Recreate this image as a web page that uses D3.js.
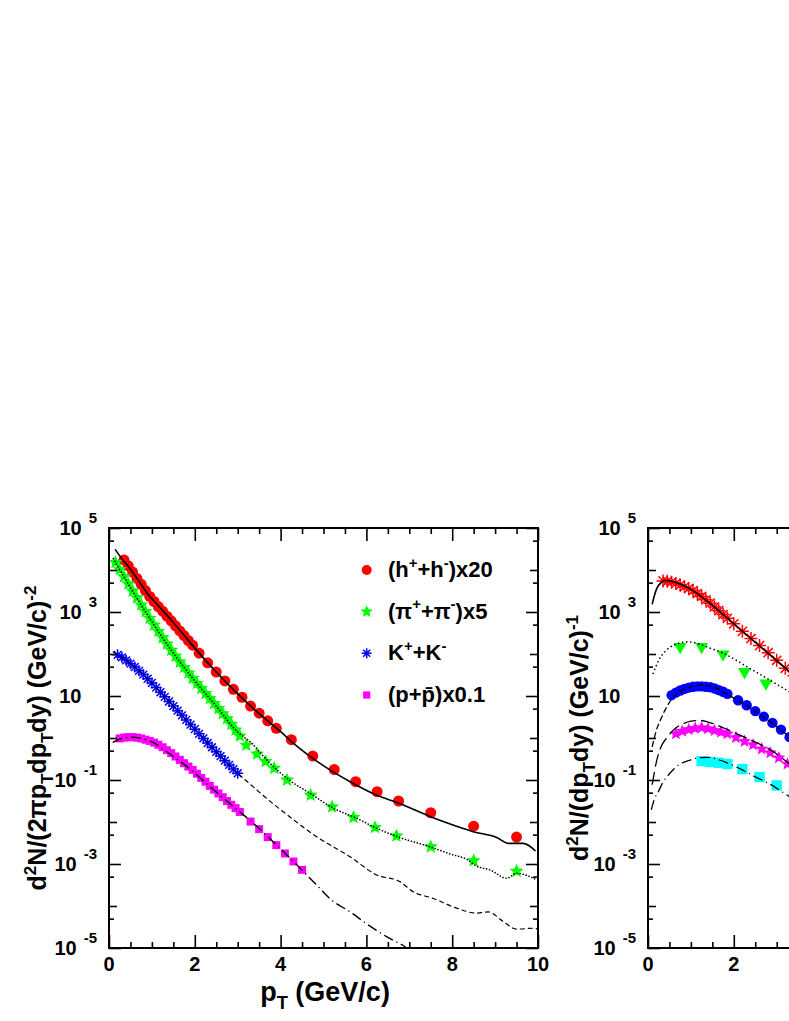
<!DOCTYPE html>
<html><head><meta charset="utf-8">
<script src="https://d3js.org/d3.v7.min.js"></script>
<style>body{margin:0;background:#fff}</style>
</head><body>
<script>
// ---------------- DATA (log10 of yields) ----------------
const xTickLabels = ["0","2","4","6","8","10"];
const xTickValues = [0,2,4,6,8,10];
const yLabelExps = [-5,-3,-1,1,3,5];

// Left panel
const hadronPt  = [0.35,0.45,0.55,0.65,0.75,0.85,0.95,1.05,1.15,1.25,1.35,1.45,1.55,1.65,1.75,1.85,1.95,2.1,2.3,2.5,2.7,2.9,3.1,3.3,3.5,3.7,3.9,4.25,4.75,5.25,5.75,6.25,6.75,7.5,8.5,9.5];
const hadronLog = [4.24,4.10,3.95,3.80,3.66,3.51,3.37,3.25,3.13,3.02,2.90,2.79,2.67,2.55,2.44,2.32,2.21,2.02,1.79,1.57,1.36,1.16,0.97,0.76,0.59,0.41,0.23,-0.04,-0.43,-0.75,-1.04,-1.28,-1.50,-1.78,-2.10,-2.36];
const pionPt  = [0.15,0.25,0.35,0.45,0.55,0.65,0.75,0.85,0.95,1.05,1.15,1.25,1.35,1.45,1.55,1.65,1.75,1.85,1.95,2.05,2.15,2.25,2.35,2.45,2.55,2.65,2.75,2.85,2.95,3.05,3.2,3.45,3.65,3.85,4.15,4.7,5.2,5.7,6.2,6.7,7.5,8.5,9.5];
const pionLog = [4.18,4.01,3.84,3.67,3.50,3.34,3.17,3.01,2.85,2.69,2.54,2.39,2.24,2.09,1.95,1.81,1.68,1.55,1.42,1.30,1.18,1.06,0.94,0.82,0.70,0.58,0.46,0.33,0.19,0.05,-0.17,-0.38,-0.56,-0.72,-1.0,-1.36,-1.64,-1.89,-2.13,-2.33,-2.59,-2.92,-3.17];
const kaonPt  = [0.2,0.3,0.4,0.5,0.6,0.7,0.8,0.9,1.0,1.1,1.2,1.3,1.4,1.5,1.6,1.7,1.8,1.9,2.0,2.1,2.2,2.3,2.4,2.5,2.6,2.7,2.8,2.9,3.0];
const kaonLog = [1.98,1.92,1.85,1.77,1.69,1.60,1.51,1.41,1.31,1.20,1.09,0.98,0.87,0.76,0.65,0.54,0.43,0.32,0.21,0.10,-0.01,-0.12,-0.22,-0.33,-0.43,-0.54,-0.64,-0.74,-0.84];
const protonPt  = [0.25,0.35,0.45,0.55,0.65,0.75,0.85,0.95,1.05,1.15,1.25,1.35,1.45,1.55,1.65,1.75,1.85,1.95,2.05,2.15,2.25,2.35,2.45,2.55,2.65,2.75,2.85,2.95,3.05,3.3,3.5,3.7,3.9,4.1,4.3,4.5];
const protonLog = [-0.01,0.01,0.02,0.02,0.01,-0.01,-0.04,-0.07,-0.11,-0.16,-0.22,-0.29,-0.36,-0.44,-0.52,-0.60,-0.68,-0.76,-0.85,-0.95,-1.04,-1.14,-1.23,-1.32,-1.41,-1.50,-1.59,-1.67,-1.76,-1.99,-2.17,-2.36,-2.55,-2.75,-2.94,-3.14];

const hadronCurvePt  = [0.15,0.3,0.5,0.7,0.8,0.95,1.05,1.3,1.6,2.0,2.5,3.0,3.5,4.0,4.26,4.6,5.15,5.62,6.24,6.78,7.48,8.1,8.49,9.04,9.31,9.66,9.93];
const hadronCurveLog = [4.48,4.27,4.02,3.73,3.58,3.37,3.26,2.98,2.63,2.14,1.57,1.05,0.58,0.15,-0.09,-0.37,-0.76,-1.04,-1.36,-1.56,-1.87,-2.10,-2.23,-2.37,-2.51,-2.51,-2.68];
const pionCurvePt  = [0.1,0.5,1.0,1.5,2.0,2.5,3.0,3.29,3.75,4.2,4.69,5.23,5.77,6.24,6.78,7.48,7.95,8.34,8.57,8.88,9.27,9.5,9.97];
const pionCurveLog = [4.27,3.58,2.77,2.02,1.36,0.76,0.14,-0.09,-0.60,-1.0,-1.32,-1.67,-1.91,-2.15,-2.37,-2.59,-2.76,-2.89,-3.05,-3.14,-3.34,-3.22,-3.38];
const kaonCurvePt  = [0.1,0.5,1.0,1.5,2.0,2.5,3.0,3.29,3.7,4.06,4.84,5.62,6.24,6.78,7.09,7.56,8.10,8.57,8.84,9.19,9.5,9.89,10];
const kaonCurveLog = [2.05,1.77,1.31,0.76,0.21,-0.33,-0.84,-1.10,-1.46,-1.755,-2.35,-2.83,-3.26,-3.42,-3.66,-3.82,-4.05,-4.17,-4.14,-4.37,-4.55,-4.53,-4.55];
const protonCurvePt  = [0.1,0.3,0.5,0.75,1.0,1.42,1.89,2.31,2.9,3.33,3.91,4.3,4.84,5.19,5.62,6.04,6.47,6.9,7.2];
const protonCurveLog = [-0.10,-0.01,0.02,-0.01,-0.09,-0.38,-0.74,-1.12,-1.63,-2.0,-2.55,-2.94,-3.5,-3.86,-4.14,-4.45,-4.73,-4.97,-5.2];

// Right panel
const rRedPt  = [0.35,0.45,0.55,0.65,0.75,0.85,0.95,1.05,1.15,1.25,1.35,1.45,1.55,1.65,1.75,1.85,2.0,2.2,2.4,2.6,2.8,3.0,3.2,3.4,3.6];
const rRedLog = [3.74,3.73,3.71,3.68,3.64,3.60,3.56,3.51,3.44,3.37,3.29,3.21,3.12,3.03,2.94,2.85,2.72,2.54,2.37,2.20,2.03,1.85,1.66,1.48,1.30];
const rGreenPt  = [0.75,1.25,1.75,2.25,2.75];
const rGreenLog = [2.14,2.14,1.96,1.54,1.27];
const rBluePt  = [0.55,0.65,0.75,0.85,0.95,1.05,1.15,1.25,1.35,1.45,1.55,1.65,1.75,1.85,2.1,2.3,2.5,2.7,2.9,3.1,3.3];
const rBlueLog = [1.02,1.08,1.13,1.17,1.20,1.22,1.23,1.23,1.22,1.21,1.18,1.14,1.10,1.05,0.90,0.78,0.64,0.51,0.36,0.20,0.02];
const rMagPt  = [0.65,0.8,0.95,1.1,1.25,1.4,1.55,1.7,1.85,2.05,2.25,2.45,2.65,2.85,3.05,3.25,3.45];
const rMagLog = [0.10,0.16,0.20,0.23,0.245,0.22,0.18,0.14,0.10,0.01,-0.08,-0.16,-0.26,-0.35,-0.47,-0.62,-0.78];
const rCyanPt  = [1.25,1.45,1.65,1.85,2.2,2.6,3.0,3.4];
const rCyanLog = [-0.55,-0.57,-0.59,-0.62,-0.74,-0.93,-1.13,-1.35];

const rRedCurvePt  = [0.1,0.2,0.3,0.4,0.6,1.0,1.5,2.0,2.5,3.0,3.5,4.0];
const rRedCurveLog = [3.2,3.55,3.70,3.75,3.72,3.54,3.16,2.72,2.28,1.84,1.40,0.97];
const rGreenCurvePt  = [0.12,0.25,0.44,0.7,0.94,1.15,1.37,1.83,2.30,2.77,3.23,3.7];
const rGreenCurveLog = [1.54,1.85,2.10,2.25,2.29,2.25,2.17,1.98,1.70,1.42,1.14,0.86];
const rBlueCurvePt  = [0.1,0.2,0.3,0.4,0.5,0.6,0.8,1.0,1.2,1.4,1.6,1.8,2.0,2.3,2.6,3.0,3.4,3.6];
const rBlueCurveLog = [-0.2,0.2,0.45,0.67,0.85,0.98,1.14,1.22,1.26,1.24,1.18,1.07,0.95,0.77,0.56,0.27,-0.05,-0.2];
const rMagCurvePt  = [0.1,0.2,0.3,0.45,0.6,0.8,1.0,1.2,1.4,1.6,1.9,2.14,2.4,2.69,3.0,3.15,3.4,3.6];
const rMagCurveLog = [-1.1,-0.55,-0.22,0.02,0.2,0.33,0.40,0.42,0.38,0.31,0.18,0.07,-0.05,-0.19,-0.38,-0.5,-0.7,-0.86];
const rCyanCurvePt  = [0.08,0.15,0.24,0.35,0.51,0.7,0.94,1.2,1.41,1.65,1.91,2.2,2.49,2.81,3.23,3.6];
const rCyanCurveLog = [-1.7,-1.45,-1.28,-1.05,-0.84,-0.65,-0.54,-0.47,-0.46,-0.52,-0.62,-0.76,-0.92,-1.08,-1.35,-1.6];

// ---------------- DRAWING ----------------
const FONT = "'Liberation Sans', Arial, Helvetica, sans-serif";
const svg = d3.select("body").append("svg")
  .attr("width",789).attr("height",1021)
  .style("font-family",FONT).style("font-weight","bold");

const y  = d3.scaleLog().domain([1e-5,1e5]).range([948,528]);
const xL = d3.scaleLinear().domain([0,10]).range([109,538]);
const xR = d3.scaleLinear().domain([0,10]).range([648,1077]);

const defs = svg.append("defs");
defs.append("clipPath").attr("id","clipL").append("rect").attr("x",109).attr("y",528).attr("width",429).attr("height",420);
defs.append("clipPath").attr("id","clipR").append("rect").attr("x",648).attr("y",528).attr("width",429).attr("height",420);

function rich(sel, parts, base){
  let cur = 0;
  parts.forEach(([s,m])=>{
    const fs = m===0 ? base : base*0.68;
    const off = m===1 ? -base*0.42 : (m===-1 ? base*0.28 : 0);
    sel.append("tspan").attr("dy", off-cur).attr("font-size", fs).text(s);
    cur = off;
  });
}

function frame(x){
  const x0 = x.range()[0], x1 = x(10);
  const g = svg.append("g");
  const xMajor = [0,2,4,6,8,10];
  const xMinor = d3.range(0.5,10,0.5).filter(v=>v%2!==0);
  const yOdd  = [1e-5,1e-3,1e-1,1e1,1e3,1e5];
  const yEven = [1e-4,1e-2,1,1e2,1e4];
  const yFive = [5e-5,5e-4,5e-3,5e-2,5e-1,5,50,500,5e3,5e4];
  const add = (axis, tr, vals, len)=>{
    const a = g.append("g").attr("transform",tr)
      .call(axis.tickValues(vals).tickSize(len).tickFormat(""));
    a.select(".domain").remove();
    a.selectAll("line").attr("stroke","#000").attr("stroke-width",1.6);
  };
  add(d3.axisTop(x), "translate(0,948)", xMajor, 13);
  add(d3.axisTop(x), "translate(0,948)", xMinor, 6);
  add(d3.axisBottom(x), "translate(0,528)", xMajor, 13);
  add(d3.axisBottom(x), "translate(0,528)", xMinor, 6);
  add(d3.axisRight(y), `translate(${x0},0)`, yOdd, 12);
  add(d3.axisRight(y), `translate(${x0},0)`, yEven, 8);
  add(d3.axisRight(y), `translate(${x0},0)`, yFive, 5);
  add(d3.axisLeft(y), `translate(${x1},0)`, yOdd, 12);
  add(d3.axisLeft(y), `translate(${x1},0)`, yEven, 8);
  add(d3.axisLeft(y), `translate(${x1},0)`, yFive, 5);
  g.append("rect").attr("x",x0).attr("y",528).attr("width",x1-x0).attr("height",420)
    .attr("fill","none").attr("stroke","#000").attr("stroke-width",2);
  // x tick labels (only those inside the window)
  const vis = xTickValues.map((v,i)=>({v,t:xTickLabels[i]})).filter(d=>x(d.v)+8<789);
  g.selectAll(".xl").data(vis).join("text")
    .attr("x",d=>x(d.v)).attr("y",971).attr("text-anchor","middle")
    .attr("font-size",20).text(d=>d.t);
  // y tick labels
  yLabelExps.forEach(e=>{
    const yy = y(Math.pow(10,e));
    const supX = x0 - 12;
    let supW = 0;
    if (e!==1){
      const s = g.append("text").attr("x",supX).attr("y",yy-5).attr("text-anchor","end")
        .attr("font-size",15).text(String(e));
      supW = s.node().getComputedTextLength();
    } else supW = 8.5;
    g.append("text").attr("x",supX-supW-7).attr("y",yy+6.5).attr("text-anchor","end")
      .attr("font-size",20).text("10");
  });
}

function starPath(R){
  const r = R*0.45; let p="";
  for(let i=0;i<10;i++){
    const rr = i%2? r:R; const a = -Math.PI/2 + i*Math.PI/5;
    p += (i?"L":"M")+(rr*Math.cos(a)).toFixed(2)+","+(rr*Math.sin(a)).toFixed(2);
  }
  return p+"Z";
}
function asteriskPath(r){
  const a = r*0.707;
  return `M${-r},0L${r},0M0,${-r}L0,${r}M${-a},${-a}L${a},${a}M${-a},${a}L${a},${-a}`;
}
function triDown(s){ return `M${-s},${-s*0.8}L${s},${-s*0.8}L0,${s*0.95}Z`; }

function markers(x, pts, logs, kind, color, size, clip){
  const data = pts.map((p,i)=>({p, v:Math.pow(10,logs[i])}));
  const g = svg.append("g").attr("clip-path",`url(#${clip})`);
  const sel = g.selectAll("path").data(data).join("path")
    .attr("transform",d=>`translate(${x(d.p)},${y(d.v)})`);
  styleMarker(sel, kind, color, size);
}
function styleMarker(sel, kind, color, size){
  if(kind==="circle") sel.attr("d", d3.symbol(d3.symbolCircle, Math.PI*size*size)()).attr("fill",color);
  if(kind==="square") sel.attr("d", d3.symbol(d3.symbolSquare, (2*size)*(2*size))()).attr("fill",color);
  if(kind==="star") sel.attr("d", starPath(size)).attr("fill",color);
  if(kind==="tri") sel.attr("d", triDown(size)).attr("fill",color);
  if(kind==="ast") sel.attr("d", asteriskPath(size)).attr("fill","none").attr("stroke",color).attr("stroke-width",1.5);
}
function curve(x, pts, logs, dash, clip, w){
  const data = pts.map((p,i)=>({p, v:Math.pow(10,logs[i])}));
  svg.append("path").datum(data).attr("clip-path",`url(#${clip})`)
    .attr("d", d3.line().x(d=>x(d.p)).y(d=>y(d.v)).curve(d3.curveMonotoneX))
    .attr("fill","none").attr("stroke","#000").attr("stroke-width",w||1.4)
    .attr("stroke-dasharray",dash).attr("stroke-linecap","round");
}

// Left panel
markers(xL, hadronPt, hadronLog, "circle", "#ff0000", 5.5, "clipL");
markers(xL, pionPt, pionLog, "star", "#00ff00", 7.3, "clipL");
markers(xL, kaonPt, kaonLog, "ast", "#0000ff", 5.5, "clipL");
markers(xL, protonPt, protonLog, "square", "#ff00ff", 4, "clipL");
curve(xL, hadronCurvePt, hadronCurveLog, null, "clipL", 1.6);
curve(xL, pionCurvePt, pionCurveLog, "0.1,3", "clipL", 1.6);
curve(xL, kaonCurvePt, kaonCurveLog, "4,4", "clipL", 1.2);
curve(xL, protonCurvePt, protonCurveLog, "9,5,0.1,5", "clipL", 1.4);
frame(xL);

// Right panel
markers(xR, rRedPt, rRedLog, "ast", "#ff0000", 6.5, "clipR");
markers(xR, rGreenPt, rGreenLog, "tri", "#00ff00", 6.5, "clipR");
markers(xR, rBluePt, rBlueLog, "circle", "#0000ff", 5.2, "clipR");
markers(xR, rMagPt, rMagLog, "star", "#ff00ff", 6.8, "clipR");
markers(xR, rCyanPt, rCyanLog, "square", "#00ffff", 5.2, "clipR");
curve(xR, rRedCurvePt, rRedCurveLog, null, "clipR", 1.6);
curve(xR, rGreenCurvePt, rGreenCurveLog, "0.1,4", "clipR", 1.6);
curve(xR, rBlueCurvePt, rBlueCurveLog, "5,4", "clipR", 1.3);
curve(xR, rMagCurvePt, rMagCurveLog, "12,6", "clipR", 1.3);
curve(xR, rCyanCurvePt, rCyanCurveLog, "9,5,0.1,5", "clipR", 1.3);
frame(xR);

// Legend
const legendItems = [
  {kind:"circle", color:"#ff0000", size:5, parts:[["(h",0],["+",1],["+h",0],["-",1],[")x20",0]]},
  {kind:"star", color:"#00ff00", size:6.5, parts:[["(\u03c0",0],["+",1],["+\u03c0",0],["-",1],[")x5",0]]},
  {kind:"ast", color:"#0000ff", size:5, parts:[["K",0],["+",1],["+K",0],["-",1]]},
  {kind:"square", color:"#ff00ff", size:3.6, parts:[["(p+p\u0304)x0.1",0]]}
];
const legendY = [570, 611.7, 653.3, 695];
legendItems.forEach((it,i)=>{
  const m = svg.append("path").attr("transform",`translate(366.7,${legendY[i]})`);
  styleMarker(m, it.kind, it.color, it.size);
  const t = svg.append("text").attr("x",388).attr("y",legendY[i]+7).attr("font-size",22);
  rich(t, it.parts, 22);
});

// Axis titles
const tl = svg.append("text").attr("transform","translate(46,738) rotate(-90)").attr("text-anchor","middle");
rich(tl, [["d",0],["2",1],["N/(2",0],["\u03c0",0],["p",0],["T",-1],["dp",0],["T",-1],["dy) (GeV/c)",0],["-2",1]], 25);
const tr = svg.append("text").attr("transform","translate(588,738) rotate(-90)").attr("text-anchor","middle");
rich(tr, [["d",0],["2",1],["N/(dp",0],["T",-1],["dy) (GeV/c)",0],["-1",1]], 25);
const tx = svg.append("text").attr("x",325).attr("y",1001).attr("text-anchor","middle");
rich(tx, [["p",0],["T",-1],[" (GeV/c)",0]], 27);
</script>
</body></html>
